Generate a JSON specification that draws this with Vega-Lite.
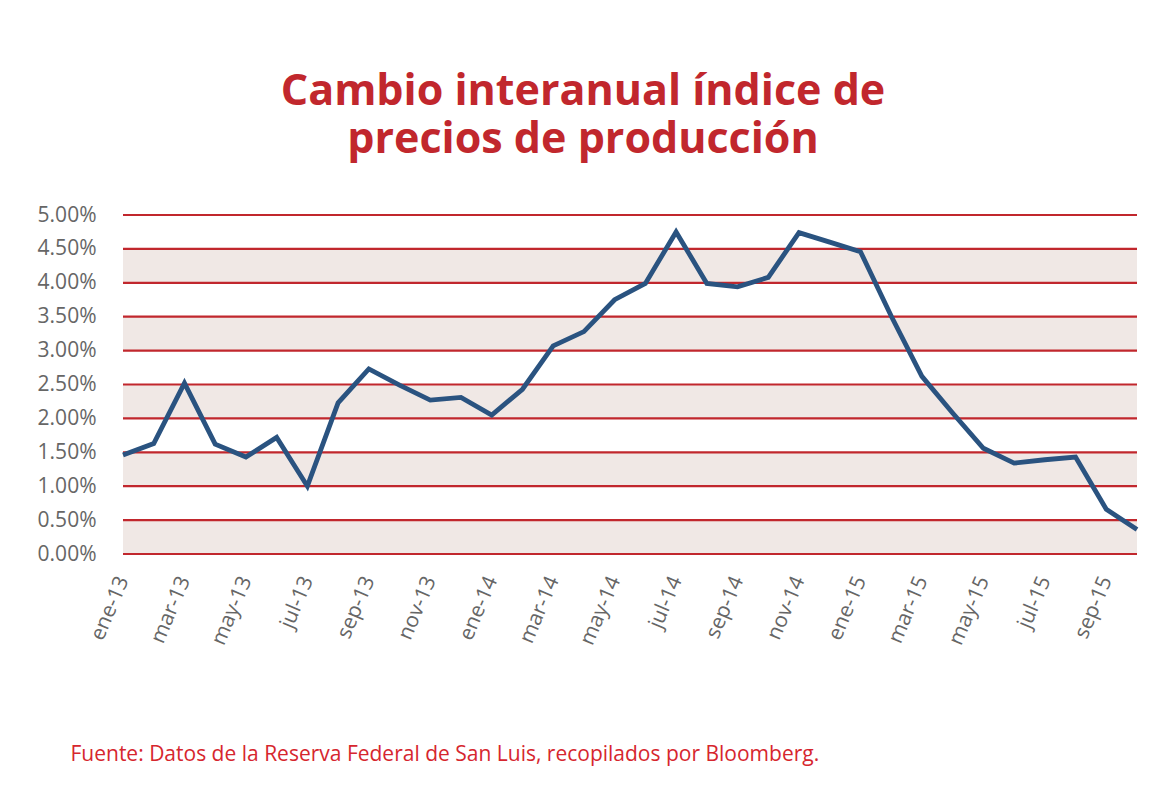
{
  "$schema": "https://vega.github.io/schema/vega-lite/v6.json",
  "width": 1014,
  "height": 339,
  "autosize": {"type": "none"},
  "padding": {"left": 123, "top": 215, "right": 33, "bottom": 237},
  "background": "white",
  "title": {
    "text": ["Cambio interanual índice de", "precios de producción"],
    "font": "Open Sans",
    "fontSize": 43,
    "fontWeight": "bold",
    "color": "#c1272d",
    "anchor": "middle",
    "frame": "group",
    "dx": -47,
    "lineHeight": 48,
    "offset": 42
  },
  "config": {"view": {"stroke": null}},
  "datasets": {
    "bands": [
      {"lo": 0, "hi": 0.5},
      {"lo": 1, "hi": 1.5},
      {"lo": 2, "hi": 2.5},
      {"lo": 3, "hi": 3.5},
      {"lo": 4, "hi": 4.5}
    ],
    "grid": [
      {"g": 0}, {"g": 0.5}, {"g": 1}, {"g": 1.5}, {"g": 2}, {"g": 2.5},
      {"g": 3}, {"g": 3.5}, {"g": 4}, {"g": 4.5}, {"g": 5}
    ],
    "series": [
      {"mes": "ene-13", "v": 1.46},
      {"mes": "feb-13", "v": 1.63},
      {"mes": "mar-13", "v": 2.52},
      {"mes": "abr-13", "v": 1.62},
      {"mes": "may-13", "v": 1.43},
      {"mes": "jun-13", "v": 1.72},
      {"mes": "jul-13", "v": 1.00},
      {"mes": "ago-13", "v": 2.23},
      {"mes": "sep-13", "v": 2.73},
      {"mes": "oct-13", "v": 2.49},
      {"mes": "nov-13", "v": 2.27},
      {"mes": "dic-13", "v": 2.31},
      {"mes": "ene-14", "v": 2.05},
      {"mes": "feb-14", "v": 2.43},
      {"mes": "mar-14", "v": 3.07},
      {"mes": "abr-14", "v": 3.28},
      {"mes": "may-14", "v": 3.75},
      {"mes": "jun-14", "v": 3.99},
      {"mes": "jul-14", "v": 4.75},
      {"mes": "ago-14", "v": 3.99},
      {"mes": "sep-14", "v": 3.94},
      {"mes": "oct-14", "v": 4.08},
      {"mes": "nov-14", "v": 4.74},
      {"mes": "dic-14", "v": 4.60},
      {"mes": "ene-15", "v": 4.46},
      {"mes": "feb-15", "v": 3.51},
      {"mes": "mar-15", "v": 2.62},
      {"mes": "abr-15", "v": 2.08},
      {"mes": "may-15", "v": 1.56},
      {"mes": "jun-15", "v": 1.34},
      {"mes": "jul-15", "v": 1.39},
      {"mes": "ago-15", "v": 1.43},
      {"mes": "sep-15", "v": 0.66},
      {"mes": "oct-15", "v": 0.36}
    ]
  },
  "encoding": {
    "y": {
      "type": "quantitative",
      "scale": {"domain": [0, 5], "nice": false, "zero": true},
      "axis": {
        "values": [0, 0.5, 1, 1.5, 2, 2.5, 3, 3.5, 4, 4.5, 5],
        "labelExpr": "format(datum.value, '.2f') + '%'",
        "grid": false,
        "domain": false,
        "ticks": false,
        "labelPadding": 27,
        "labelFont": "Open Sans",
        "labelFontSize": 21,
        "labelColor": "#666666",
        "title": null
      }
    }
  },
  "layer": [
    {
      "data": {"name": "bands"},
      "mark": {"type": "rect", "color": "#f0e8e5"},
      "encoding": {
        "y": {"field": "lo"},
        "y2": {"field": "hi"}
      }
    },
    {
      "data": {"name": "grid"},
      "mark": {"type": "rule", "color": "#c1272d", "strokeWidth": 2.2},
      "encoding": {
        "y": {"field": "g"}
      }
    },
    {
      "data": {"name": "series"},
      "mark": {"type": "line", "color": "#2a5380", "strokeWidth": 4.8},
      "encoding": {
        "x": {
          "field": "mes",
          "type": "ordinal",
          "sort": null,
          "scale": {"type": "point", "padding": 0},
          "axis": {
            "values": ["ene-13", "mar-13", "may-13", "jul-13", "sep-13", "nov-13", "ene-14", "mar-14", "may-14", "jul-14", "sep-14", "nov-14", "ene-15", "mar-15", "may-15", "jul-15", "sep-15"],
            "labelAngle": -67,
            "labelAlign": "right",
            "labelBaseline": "middle",
            "labelOverlap": false,
            "labelFont": "Open Sans",
            "labelFontSize": 21,
            "labelColor": "#666666",
            "labelPadding": 23,
            "ticks": false,
            "domain": false,
            "grid": false,
            "title": "Fuente: Datos de la Reserva Federal de San Luis, recopilados por Bloomberg.",
            "titleFont": "Open Sans",
            "titleFontSize": 21,
            "titleFontWeight": "normal",
            "titleColor": "#d6262e",
            "titleX": -53,
            "titleY": 206,
            "titleAlign": "left",
            "titleAnchor": "start",
            "titleBaseline": "alphabetic"
          }
        },
        "y": {"field": "v"}
      }
    }
  ]
}
